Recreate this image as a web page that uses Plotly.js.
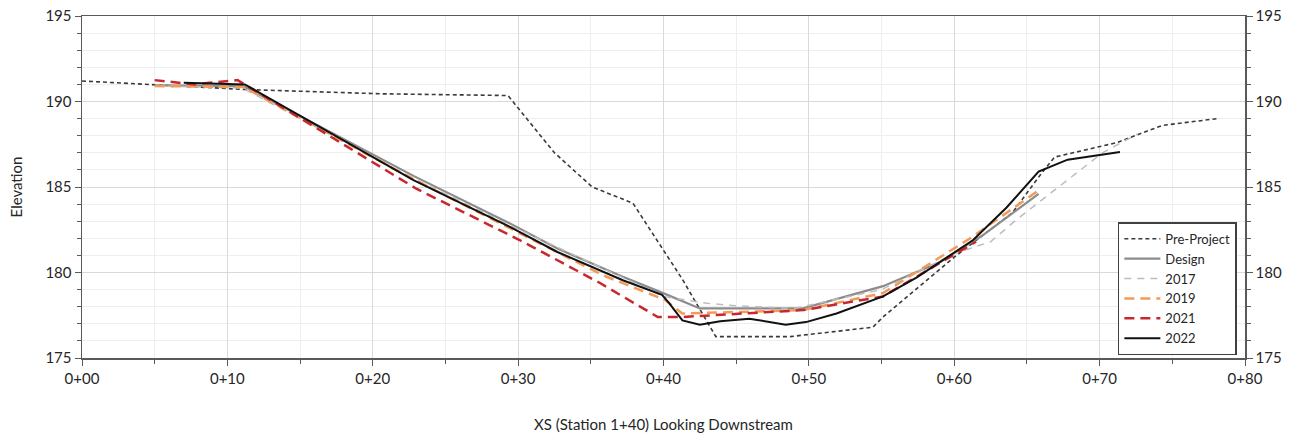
<!DOCTYPE html>
<html>
<head>
<meta charset="utf-8">
<script src="https://cdn.plot.ly/plotly-3.0.1.min.js"></script>
<style>html,body{margin:0;padding:0;background:#fff;}#chart{width:1305px;height:441px;}</style>
</head>
<body>
<div id="chart"></div>
<script>
// Station (ft along XS) and elevation values
const preProjectX = [0, 11.3, 20.6, 29.3, 32.5, 35.1, 37.9, 41.3, 43.6, 48.7, 54.4, 55.1, 60.0, 64.0, 66.0, 66.9, 71.2, 74.3, 78.1];
const preProjectY = [191.2, 190.7, 190.45, 190.35, 187.0, 185.0, 184.05, 179.6, 176.25, 176.25, 176.8, 177.4, 180.9, 183.5, 185.8, 186.75, 187.6, 188.6, 189.0];

const designX = [5.0, 11.1, 22.8, 29.6, 32.7, 37.2, 40.1, 42.5, 49.6, 55.1, 59.0, 62.0, 65.8];
const designY = [190.95, 190.9, 185.65, 182.8, 181.4, 179.75, 178.75, 177.9, 177.9, 179.2, 180.6, 182.2, 184.6];

const y2017X = [5.0, 11.0, 22.8, 29.6, 37.2, 40.0, 43.0, 45.0, 49.0, 55.0, 60.0, 62.5, 64.3, 70.2, 72.6];
const y2017Y = [190.9, 190.8, 185.5, 182.7, 179.7, 178.6, 178.2, 178.05, 177.9, 179.0, 181.1, 181.8, 183.1, 187.0, 188.1];

const y2019X = [5.0, 11.1, 22.8, 29.6, 35.8, 40.1, 41.3, 49.6, 55.1, 61.1, 65.8];
const y2019Y = [190.9, 190.85, 185.45, 182.5, 179.85, 178.4, 177.6, 177.8, 178.8, 182.0, 184.8];

const y2021X = [5.0, 7.7, 10.7, 23.0, 30.1, 35.6, 39.6, 41.3, 49.6, 55.1, 61.5];
const y2021Y = [191.25, 191.0, 191.25, 184.9, 181.9, 179.4, 177.4, 177.4, 177.8, 178.6, 181.8];

const y2022X = [7.0, 11.2, 22.8, 29.6, 32.7, 37.2, 39.9, 40.4, 41.3, 42.5, 43.9, 45.9, 48.4, 49.8, 51.9, 55.1, 57.4, 61.3, 63.6, 65.8, 67.8, 71.4];
const y2022Y = [191.1, 191.0, 185.4, 182.6, 181.2, 179.55, 178.7, 178.2, 177.2, 176.95, 177.15, 177.3, 176.95, 177.1, 177.6, 178.6, 179.7, 181.9, 183.8, 185.9, 186.6, 187.05];

const xTickVals = [0, 10, 20, 30, 40, 50, 60, 70, 80];
const xTickText = ["0+00", "0+10", "0+20", "0+30", "0+40", "0+50", "0+60", "0+70", "0+80"];

const FONT = "Lato, Open Sans, sans-serif";

const traces = [
  {name: "Pre-Project", x: preProjectX, y: preProjectY, mode: "lines",
   line: {color: "#3a3a3a", width: 1.6, dash: "4px,3px"}},
  {name: "Design", x: designX, y: designY, mode: "lines",
   line: {color: "#8c8c8c", width: 2.2}},
  {name: "2017", x: y2017X, y: y2017Y, mode: "lines",
   line: {color: "#bdbdbd", width: 1.5, dash: "7px,6px"}},
  {name: "2019", x: y2019X, y: y2019Y, mode: "lines",
   line: {color: "#f39a5a", width: 2.5, dash: "10px,6px"}},
  {name: "2021", x: y2021X, y: y2021Y, mode: "lines",
   line: {color: "#c8282d", width: 2.5, dash: "10px,6px"}},
  {name: "2022", x: y2022X, y: y2022Y, mode: "lines",
   line: {color: "#111111", width: 2}}
];

const layout = {
  width: 1305, height: 441,
  margin: {l: 82, r: 60, t: 16, b: 83},
  paper_bgcolor: "#ffffff", plot_bgcolor: "#ffffff",
  font: {family: FONT, size: 15, color: "#262626"},
  showlegend: true,
  legend: {
    x: 0.993, xanchor: "right", y: 0.008, yanchor: "bottom",
    bgcolor: "#ffffff", bordercolor: "#404040", borderwidth: 1.5,
    font: {family: FONT, size: 13, color: "#262626"},
    tracegroupgap: 0, itemwidth: 36
  },
  xaxis: {
    range: [0, 80], tickvals: xTickVals, ticktext: xTickText,
    showgrid: true, gridcolor: "#d9d9d9", gridwidth: 1,
    zeroline: false, showline: true, linecolor: "#595959", linewidth: 1.5, mirror: true,
    ticks: "outside", ticklen: 6, tickcolor: "#595959",
    minor: {dtick: 5, tick0: 0, showgrid: true, gridcolor: "#eeeeee", ticks: "outside", ticklen: 4, tickcolor: "#595959"},
    tickfont: {size: 15},
    title: {text: "XS (Station 1+40) Looking Downstream", font: {size: 15}, standoff: 34}
  },
  yaxis: {
    range: [175, 195], dtick: 5, tick0: 175,
    showgrid: true, gridcolor: "#d9d9d9", gridwidth: 1,
    zeroline: false, showline: true, linecolor: "#595959", linewidth: 1.5, mirror: true,
    ticks: "outside", ticklen: 6, tickcolor: "#595959",
    minor: {dtick: 1, showgrid: true, gridcolor: "#eeeeee", ticks: "outside", ticklen: 4, tickcolor: "#595959"},
    tickfont: {size: 15},
    title: {text: "Elevation", font: {size: 15}, standoff: 19}
  },
  yaxis2: {
    range: [175, 195], dtick: 5, tick0: 175, overlaying: "y", side: "right",
    showgrid: false, zeroline: false, showline: true, linecolor: "#595959", linewidth: 1.5,
    ticks: "outside", ticklen: 6, tickcolor: "#595959",
    minor: {dtick: 1, ticks: "outside", ticklen: 4, tickcolor: "#595959"},
    tickfont: {size: 15}
  }
};

Plotly.newPlot("chart", traces.concat([{x: [null], y: [null], yaxis: "y2", showlegend: false, hoverinfo: "skip", mode: "lines"}]), layout, {displayModeBar: false, staticPlot: true});
</script>
</body>
</html>
